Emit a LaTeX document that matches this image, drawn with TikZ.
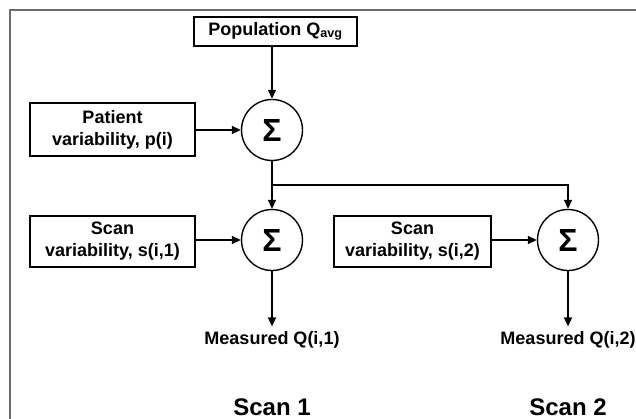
\documentclass[tikz,border=0pt]{standalone}
\usepackage{fontspec}
\setmainfont{Liberation Sans}
\usetikzlibrary{arrows.meta}

\begin{document}
\begin{tikzpicture}[x=1pt,y=-1pt,>={Triangle[length=9pt,width=8pt]},line join=miter,
  box/.style={draw,line width=1.6pt,align=center,inner sep=0pt,font=\bfseries\fontsize{18}{22}\selectfont},
  sumnode/.style={draw,circle,line width=1.4pt,minimum size=61pt,inner sep=0pt,font=\bfseries\fontsize{32}{32}\selectfont},
  outlabel/.style={font=\bfseries\fontsize{18}{20}\selectfont,inner sep=5pt},
  scanlabel/.style={font=\bfseries\fontsize{24}{26}\selectfont},
  flow/.style={->,line width=1.6pt}]
  \useasboundingbox (0,0) rectangle (636,419);
  \draw[black!58,line width=1.5pt] (10,419) -- (10,10) -- (636,10);
  \coordinate (split) at (272,185);
  \node[box,minimum width=163pt,minimum height=29pt] (pop) at (275.5,31.5) {Population Q\textsubscript{avg}};
  \node[box,minimum width=165pt,minimum height=53pt] (patient) at (112.5,129.5) {Patient\\variability, p(i)};
  \node[box,minimum width=165pt,minimum height=51pt] (scan1) at (112.5,241.5) {Scan\\variability, s(i,1)};
  \node[box,minimum width=157pt,minimum height=51pt] (scan2) at (412.5,241.5) {Scan\\variability, s(i,2)};
  \node[sumnode] (sum1) at (272,130) {Σ};
  \node[sumnode] (sum2) at (272,240) {Σ};
  \node[sumnode] (sum3) at (568,240) {Σ};
  \node[outlabel] (meas1) at (272,340) {Measured Q(i,1)};
  \node[outlabel] (meas2) at (568,340) {Measured Q(i,2)};
  \node[scanlabel] (lab1) at (272,407) {Scan 1};
  \node[scanlabel] (lab2) at (568,407) {Scan 2};
  \draw[flow] (pop.south -| sum1.north) -- (sum1.north);
  \draw[flow] (patient.east |- sum1) -- (sum1.west);
  \draw[line width=1.6pt] (sum1.south) -- (split);
  \draw[flow] (split) -- (sum2.north);
  \draw[flow] (split) -| (sum3.north);
  \draw[flow] (scan1.east |- sum2) -- (sum2.west);
  \draw[flow] (scan2.east |- sum3) -- (sum3.west);
  \draw[flow] (sum2.south) -- (meas1.north);
  \draw[flow] (sum3.south) -- (meas2.north);
\end{tikzpicture}
\end{document}
